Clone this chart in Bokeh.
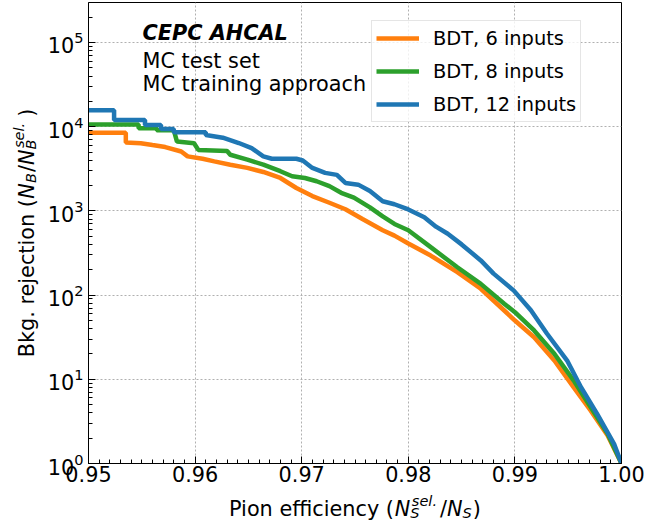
import numpy as np
from bokeh.plotting import figure
from bokeh.layouts import row, column
from bokeh.models import (Label, Legend, LegendItem, SingleIntervalTicker,
                          NumeralTickFormatter, LogTicker)
from bokeh.embed import file_html
from bokeh.resources import INLINE

# ---------------- data ----------------
eff_6 = [0.9500, 0.9535, 0.9535, 0.9549, 0.9560, 0.9572, 0.9587, 0.9593, 0.9607,
         0.9618, 0.9633, 0.9649, 0.9664, 0.9680, 0.9695, 0.9710, 0.9726, 0.9741,
         0.9757, 0.9776, 0.9787, 0.9800, 0.9821, 0.9846, 0.9868, 0.9890, 0.9900,
         0.9918, 0.9937, 0.9955, 0.9971, 0.9987, 1.0000]
rej_6 = [8500, 8500, 6500, 6370, 6050, 5730, 5080, 4440, 4160,
         3870, 3540, 3240, 2900, 2460, 1870, 1500, 1250, 1045,
         800, 590, 508, 410, 295, 187, 119, 65.6, 49.9,
         31.6, 16.7, 8.05, 4.26, 2.15, 1.0]

eff_8 = [0.9500, 0.9547, 0.9547, 0.9564, 0.9564, 0.9580, 0.9583, 0.9599, 0.9603,
         0.9630, 0.9633, 0.9649, 0.9664, 0.9680, 0.9691, 0.9703, 0.9714, 0.9726,
         0.9737, 0.9749, 0.9764, 0.9776, 0.9787, 0.9800, 0.9821, 0.9846, 0.9868,
         0.9890, 0.9900, 0.9918, 0.9937, 0.9955, 0.9971, 0.9987, 1.0000]
rej_8 = [10600, 10600, 9560, 9560, 9100, 9100, 6650, 6370, 5300,
         5150, 4640, 4060, 3540, 2960, 2580, 2460, 2250, 1970,
         1640, 1440, 1100, 860, 700, 590, 371, 214, 136,
         79, 62.7, 38, 20.1, 9.7, 4.67, 2.25, 1.0]

eff_12 = [0.9500, 0.9524, 0.9524, 0.9553, 0.9553, 0.9568, 0.9568, 0.9580, 0.9580,
          0.9610, 0.9610, 0.9626, 0.9641, 0.9653, 0.9664, 0.9672, 0.9695, 0.9701,
          0.9710, 0.9722, 0.9733, 0.9741, 0.9753, 0.9764, 0.9776, 0.9787, 0.9800,
          0.9815, 0.9826, 0.9837, 0.9850, 0.9868, 0.9880, 0.9899, 0.9915, 0.9930,
          0.9949, 0.9962, 0.9977, 0.9993, 1.0000]
rej_12 = [15700, 15700, 12000, 12000, 10500, 10500, 9400, 9400, 8600,
          8600, 7950, 7400, 6400, 5560, 4440, 4160, 4160, 3970,
          3240, 2830, 2680, 2150, 2050, 1720, 1300, 1200, 1040,
          842, 650, 535, 400, 258, 180, 113, 66, 35,
          16.7, 8.05, 3.9, 1.71, 1.0]

labels = ["BDT, 6 inputs", "BDT, 8 inputs", "BDT, 12 inputs"]
colors = ["#ff7f0e", "#2ca02c", "#1f77b4"]

# ---------------- layout ----------------
WIDTH, HEIGHT = 645, 527
L, R, T, B = 88, 621, 2, 463          # frame edges in global pixels
YLAB_W = 42                           # strip for the y axis label
MAIN_H = 490                          # main figure height
FONT = "DejaVu Sans"
FS = 20.8
SMALL = FS * 0.7
BASE_FIX = 7                          # measured baseline offset of Label text

p = figure(width=WIDTH - YLAB_W, height=MAIN_H, x_range=(0.95, 1.0),
           y_range=(1, 10 ** 5.475), y_axis_type="log",
           output_backend="svg", toolbar_location=None,
           min_border_left=L - YLAB_W, min_border_right=WIDTH - R,
           min_border_top=T, min_border_bottom=MAIN_H - B)
p.background_fill_color = "white"
p.border_fill_color = "white"
p.outline_line_color = "black"
p.outline_line_width = 1

renderers = []
for e, r, c in zip([eff_6, eff_8, eff_12], [rej_6, rej_8, rej_12], colors):
    renderers.append(p.line(e, r, line_width=4.5, color=c))

# axes
p.xaxis.ticker = SingleIntervalTicker(interval=0.01, num_minor_ticks=10)
p.xaxis.formatter = NumeralTickFormatter(format="0.00")
p.yaxis.ticker = LogTicker(mantissas=[1], num_minor_ticks=10)
for ax in (p.xaxis, p.yaxis):
    ax.axis_label = None
    ax.major_tick_in = 7
    ax.major_tick_out = 0
    ax.minor_tick_in = 4
    ax.minor_tick_out = 0
    ax.axis_line_color = "black"
    ax.major_tick_line_color = "black"
    ax.minor_tick_line_color = "black"
    ax.major_label_text_font = FONT
    ax.major_label_text_font_size = f"{FS}px"
    ax.major_label_text_color = "black"
p.xaxis.major_label_standoff = 2
p.yaxis.major_label_standoff = 5

for g in (p.xgrid, p.ygrid):
    g.grid_line_color = "#b0b0b0"
    g.grid_line_dash = "2 2"
    g.grid_line_width = 1

# legend
legend = Legend(items=[LegendItem(label=lab, renderers=[rr]) for lab, rr in zip(labels, renderers)],
                location=(371 - L, B - 122), padding=4, spacing=7, margin=0,
                glyph_width=43, glyph_height=26, label_height=26, label_standoff=14,
                label_text_font=FONT, label_text_font_size="19.4px",
                label_text_baseline="middle", label_text_color="black",
                border_line_color="#cccccc", border_line_width=1,
                background_fill_color="white", background_fill_alpha=0.8)
p.add_layout(legend)


def text_strip(w, h):
    f = figure(width=w, height=h, x_range=(0, 1), y_range=(0, 1),
               output_backend="svg", toolbar_location=None,
               x_axis_location=None, y_axis_location=None,
               min_border=0, min_border_left=0, min_border_right=0,
               min_border_top=0, min_border_bottom=0)
    f.grid.visible = False
    f.outline_line_color = None
    f.background_fill_color = "white"
    f.border_fill_color = "white"
    return f


ylab = text_strip(YLAB_W, HEIGHT)
xlab = text_strip(WIDTH - YLAB_W, HEIGHT - MAIN_H)

# ---------------- text helpers ----------------
ADV = {' ': 651, '(': 799, ')': 799, '.': 651, '/': 690, ',': 651,
       'A': 1401, 'B': 1405, 'C': 1430, 'D': 1577, 'E': 1294, 'H': 1540, 'L': 1141,
       'M': 1767, 'N': 1532, 'P': 1235, 'S': 1300, 'T': 1251,
       'a': 1255, 'b': 1300, 'c': 1126, 'd': 1300, 'e': 1260, 'f': 721, 'g': 1300,
       'h': 1298, 'i': 569, 'j': 569, 'k': 1186, 'l': 569, 'm': 1995, 'n': 1298,
       'o': 1253, 'p': 1300, 'r': 842, 's': 1067, 't': 803, 'u': 1298, 'y': 1212}


def tw(s, size):
    return sum(ADV.get(ch, 1250) for ch in s) / 2048.0 * size


def put(fig, ox, oy, text, gx, gy, size, style="normal", angle=0.0):
    """Place text with baseline-left anchor at global pixel (gx, gy) in fig at offset (ox, oy)."""
    fig.add_layout(Label(x=gx - ox, y=gy - oy, x_units="canvas", y_units="canvas",
                         text=text, text_font=FONT, text_font_size=f"{size}px",
                         text_font_style=style, text_color="black",
                         text_baseline="alphabetic", text_align="left", angle=angle))


# top-left annotation (inside the main figure)
put(p, YLAB_W, 0, "CEPC AHCAL", 142, 39.5 - BASE_FIX, FS, "bold italic")
put(p, YLAB_W, 0, "MC test set", 142, 67 - BASE_FIX, FS)
put(p, YLAB_W, 0, "MC training approach", 142, 90.5 - BASE_FIX, FS)

SUP_UP, SUB_DN, ITAL = 8.0, 4.0, 1.5

# x axis label: Pion efficiency (N_S^{sel.}/N_S)
pieces_x = [("Pion efficiency (", FS, "normal", 0, 0, tw("Pion efficiency (", FS)),
            ("N", FS, "italic", 0, 0, tw("N", FS)),
            ("sel.", SMALL, "italic", SUP_UP, ITAL, 0.0),
            ("S", SMALL, "italic", -SUB_DN, 0, max(tw("sel.", SMALL) + ITAL, tw("S", SMALL)) + 3),
            ("/", FS, "normal", 0, 0, tw("/", FS)),
            ("N", FS, "italic", 0, 0, tw("N", FS)),
            ("S", SMALL, "italic", -SUB_DN, 0, tw("S", SMALL) + 1),
            (")", FS, "normal", 0, 0, tw(")", FS))]
total_x = sum(pc[-1] for pc in pieces_x)
cx = (L + R) / 2 - total_x / 2
base_y = 515 - BASE_FIX
for text, size, style, dy, dx, w in pieces_x:
    put(xlab, YLAB_W, MAIN_H, text, cx + dx, base_y - dy, size, style)
    cx += w

# y axis label: Bkg. rejection (N_B/N_B^{sel.} )
pieces_y = [("Bkg. rejection (", FS, "normal", 0, 0, tw("Bkg. rejection (", FS)),
            ("N", FS, "italic", 0, 0, tw("N", FS)),
            ("B", SMALL, "italic", -SUB_DN, 0, tw("B", SMALL) + 1),
            ("/", FS, "normal", 0, 0, tw("/", FS)),
            ("N", FS, "italic", 0, 0, tw("N", FS)),
            ("sel.", SMALL, "italic", SUP_UP, ITAL, 0.0),
            ("B", SMALL, "italic", -SUB_DN, 0, max(tw("sel.", SMALL) + ITAL, tw("B", SMALL)) + 6),
            (")", FS, "normal", 0, 0, tw(")", FS))]
total_y = sum(pc[-1] for pc in pieces_y)
u = 0.0
start_cy = (T + B) / 2 + total_y / 2
base_x = 33 - BASE_FIX
for text, size, style, dy, du, w in pieces_y:
    put(ylab, 0, 0, text, base_x - dy, start_cy - u - du, size, style, angle=np.pi / 2)
    u += w

layout = row(ylab, column(p, xlab, spacing=0), spacing=0)
open("out.html", "w").write(file_html(layout, INLINE))
